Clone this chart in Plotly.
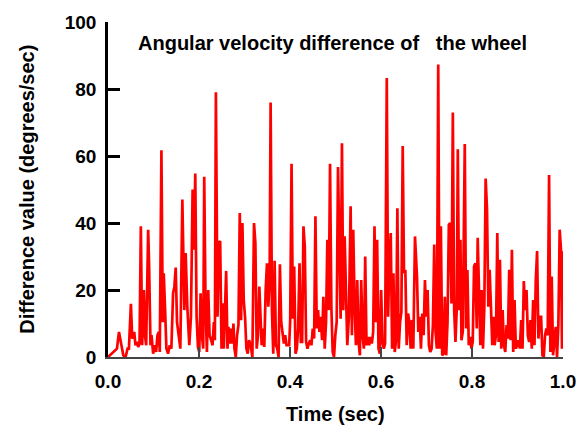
import plotly.graph_objects as go

# Time (sec) and angular-velocity difference (degrees/sec)
time_s = [
    0, .0080, .0153, .0197, .0241, .0299, .0336, .0387, .0430, .0460, .0503, .0532, .0576, .0605, .0635, .0664,
    .0693, .0722, .0751, .0788, .0817, .0839, .0883, .0904, .0934, .0956, .0992, .1028, .1058, .1087, .1116, .1138,
    .1174, .1204, .1225, .1255, .1284, .1320, .1357, .1393, .1430, .1459, .1488, .1517, .1554, .1590, .1634,
    .1678, .1707, .1743, .1787, .1823, .1860, .1889, .1918, .1947, .1977, .2006, .2035, .2064, .2093, .2115, .2144,
    .2174, .2203, .2232, .2268, .2298, .2327, .2349, .2371, .2407, .2436, .2465, .2495, .2516, .2546, .2567, .2597,
    .2626, .2648, .2677, .2706, .2735, .2757, .2779, .2808, .2837, .2867, .2896, .2925, .2954, .2983, .3012, .3042,
    .3071, .3100, .3136, .3173, .3209, .3239, .3268, .3297, .3326,
    .3377, .3406, .3435, .3465, .3494, .3523, .3552, .3574, .3603, .3632,
    .3662, .3691, .3720, .3749, .3778, .3807, .3837, .3866, .3895, .3924,
    .3953, .3982, .4004, .4034, .4063, .4092, .4121, .4150, .4179, .4209,
    .4238, .4267, .4296, .4325, .4354, .4384, .4413, .4442, .4471, .4500,
    .4530, .4559, .4588, .4617, .4646, .4675, .4705, .4734, .4763, .4792,
    .4821, .4851, .4880, .4909, .4938, .4967, .4996, .5026,
    .5055, .5084, .5113, .5142, .5171, .5201, .5230, .5259, .5295, .5332,
    .5361, .5390, .5419, .5449, .5478, .5507, .5536, .5565, .5594, .5624,
    .5653, .5682, .5711, .5740, .5770, .5799, .5828, .5857, .5886, .5915,
    .5945, .5974, .6003, .6032, .6061, .6090, .6127, .6156, .6185, .6214,
    .6244, .6273, .6302, .6331, .6360, .6389, .6419, .6448, .6477, .6506,
    .6535, .6565, .6594, .6623, .6652, .6681, .6710, .6747,
    .6791, .6820, .6849, .6878, .6907, .6937, .6966, .6995, .7024, .7053,
    .7082, .7112, .7141, .7170, .7199, .7228, .7258, .7287, .7316, .7345,
    .7374, .7403, .7433, .7462, .7491, .7520, .7549, .7579, .7608, .7637,
    .7666, .7688, .7717, .7746, .7768, .7797, .7841, .7870, .7899, .7929,
    .7958, .7987, .8016, .8045, .8074, .8104, .8125, .8155, .8184, .8213,
    .8242, .8271, .8300, .8330, .8359, .8388, .8417, .8446, .8476,
    .8497, .8527, .8556, .8585, .8614, .8643, .8673, .8702, .8731, .8760,
    .8789, .8818, .8848, .8877, .8906, .8935, .8964, .8993, .9023, .9052,
    .9081, .9110, .9139, .9168, .9198, .9227, .9256, .9285, .9314, .9344,
    .9373, .9402, .9431, .9460, .9489, .9519, .9548, .9577, .9606, .9635,
    .9664, .9694, .9723, .9752, .9781, .9810, .9840, .9869, .9898, .9927,
    .9956, .9978, .9993, 1.0,
]

diff_deg_s = [
    0, 1, 2, 2.5, 7.5, 3, 0.5, 0, 2.5, 2.5, 15.9, 5.5, 7.5, 3.5, 4.5, 3,
    4, 39, 3.5, 20, 6, 3.5, 38, 27, 3.5, 6.5, 1, 3.5, 1.5, 6.5, 7.5, 1.5,
    61.7, 10.4, 25, 14, 2.5, 1, 3.5, 2.5, 19, 21, 26.7, 10.4, 5.5, 2.5, 47,
    14, 31, 15, 3.5, 12, 50, 32, 54.8, 12, 3, 1.5, 19, 6.5, 2.5, 53.8, 15,
    1.5, 20, 6.5, 5, 3.5, 10.4, 5, 79, 12, 34, 34.6, 2.5, 16, 2.5, 12, 25.7,
    2.5, 9, 4, 8.5, 4, 10, 2.5, 0, 6.5, 9.5, 43, 11, 40, 17, 12, 2.5,
    1, 5, 3.5, 0, 40, 34, 2.5, 6.5, 21,
    3.5, 8.5, 3, 20, 28, 15, 23, 76, 14, 1,
    28.7, 3.5, 2.5, 0, 27.7, 10.4, 6.5, 4, 6.5, 3.5,
    3.5, 3.5, 11, 57.7, 11.4, 27, 1, 2.5, 8.5, 28,
    4.5, 4.5, 39, 33, 4.5, 2.5, 4, 5, 3.5, 8.5,
    5.5, 42, 8.5, 14, 7.5, 12, 5, 18, 2.5, 10.4,
    35, 14, 57.7, 15, 1.5, 0, 6.5, 10.4,
    56.7, 30, 11.4, 63.8, 14, 36, 20, 3.5, 12, 45,
    6.5, 38, 16, 3.5, 23, 4.5, 0.5, 23, 6.5, 2.5,
    30, 3.5, 6, 3.5, 6, 4, 7.5, 39, 10.4, 35,
    2.5, 1, 20, 4.5, 2.5, 4, 83.3, 12, 29, 37,
    2.5, 25, 1.5, 5, 44.4, 2.5, 10.4, 13.4, 63, 25,
    26, 3.5, 13, 10.4, 2.5, 11, 2.5, 36,
    24, 7.5, 12, 2.5, 13, 6.5, 23, 12, 20, 3.5,
    1.5, 2.5, 9.5, 33.6, 7.5, 2.5, 87.3, 2.5, 39, 0.5,
    1, 18, 0.5, 10.4, 39.5, 40, 16, 73, 14, 4.5,
    15, 62, 14, 35, 5, 7.5, 63.6, 8.5, 26, 3.5,
    6, 2.5, 4.5, 27, 28, 8.5, 35.6, 13.4, 3.5, 20,
    2.5, 15, 53.3, 44, 15, 26, 12, 3.5, 12,
    3.5, 6.5, 37, 4.5, 29, 2.5, 14, 3.5, 1.5, 9.5,
    5.5, 26, 5, 32, 1.5, 17, 2.5, 3.5, 5, 2.5,
    11, 2.5, 22.7, 14, 20, 6.5, 4.5, 11, 2.5, 17,
    3.5, 23, 31.6, 5.5, 12, 12, 0.5, 0, 6.5, 8.5,
    6.5, 54.3, 1.5, 24, 0.5, 4.5, 9, 0, 9.5, 38,
    32, 2.5, 31.6, 3,
]

x_ticks = [0, 0.2, 0.4, 0.6, 0.8, 1.0]
x_tick_labels = ["0.0", "0.2", "0.4", "0.6", "0.8", "1.0"]
y_ticks = [0, 20, 40, 60, 80, 100]

title_text = "Angular velocity difference of\u00a0\u00a0\u00a0the wheel"
x_title = "Time (sec)"
y_title = "Difference value (degrees/sec)"

FONT = "Liberation Sans, Arial, Helvetica, sans-serif"

fig = go.Figure()
fig.add_trace(go.Scatter(
    x=time_s, y=diff_deg_s, mode="lines",
    line=dict(color="#ff0000", width=2.7),
    hoverinfo="skip",
))

fig.update_layout(
    width=588, height=430,
    margin=dict(l=108, r=23, t=18, b=73),
    plot_bgcolor="white", paper_bgcolor="white",
    showlegend=False,
    font=dict(family=FONT, size=19, color="black"),
)

fig.update_xaxes(
    range=[0, 1.0], tickvals=x_ticks, ticktext=x_tick_labels,
    ticks="inside", ticklen=10, tickwidth=1.5, tickcolor="#444444",
    showline=True, linecolor="#444444", linewidth=1.5,
    showgrid=False, zeroline=False,
    tickfont=dict(family=FONT, size=19, color="black", weight="bold"),
    ticklabelstandoff=6,
)
fig.update_yaxes(
    range=[0, 100], tickvals=y_ticks,
    ticks="inside", ticklen=12, tickwidth=2.5, tickcolor="black",
    showline=True, linecolor="black", linewidth=2.5,
    showgrid=False, zeroline=False,
    tickfont=dict(family=FONT, size=19, color="black", weight="bold"),
    ticklabelstandoff=5,
)

fig.add_annotation(
    text=title_text, xref="paper", yref="paper", x=0.493, y=0.938,
    xanchor="center", yanchor="middle", showarrow=False,
    font=dict(family=FONT, size=20, color="black", weight="bold"),
)
fig.add_annotation(
    text=x_title, xref="paper", yref="paper", x=0.499, y=-0.171,
    xanchor="center", yanchor="middle", showarrow=False,
    font=dict(family=FONT, size=20, color="black", weight="bold"),
)
fig.add_annotation(
    text=y_title, xref="paper", yref="paper", x=-0.177, y=0.501,
    xanchor="center", yanchor="middle", showarrow=False, textangle=-90,
    font=dict(family=FONT, size=20, color="black", weight="bold"),
)

fig.write_html(
    "out.html",
    config={"displayModeBar": False},
    post_script="document.body.style.margin='0';",
)
